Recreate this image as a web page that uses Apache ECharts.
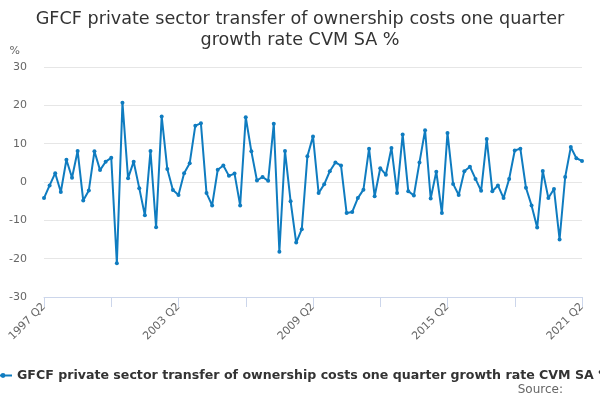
<!DOCTYPE html>
<html>
<head>
<meta charset="utf-8">
<script src="https://cdn.jsdelivr.net/npm/echarts@6/dist/echarts.min.js"></script>
<style>
    html, body { margin: 0; padding: 0; background: #fff; }
    #chart { width: 600px; height: 400px; }
</style>
</head>
<body>
<div id="chart"></div>
<script>
// Quarterly growth rate, 1997 Q2 .. 2021 Q2
var seriesName = 'GFCF private sector transfer of ownership costs one quarter growth rate CVM SA %';

var growth = [
    -4.2, -0.9, 2.3, -2.6, 5.8, 1.1, 8.1, -4.8, -2.2, 8.0,
    3.1, 5.3, 6.3, -21.2, 20.7, 1.0, 5.3, -1.6, -8.7, 8.1,
    -11.8, 17.1, 3.4, -2.1, -3.4, 2.3, 4.9, 14.7, 15.3, -2.9,
    -6.1, 3.2, 4.3, 1.6, 2.2, -6.1, 16.9, 8.0, 0.4, 1.3,
    0.3, 15.2, -18.2, 8.1, -5.0, -15.8, -12.3, 6.7, 11.9, -2.9,
    -0.6, 2.8, 5.1, 4.3, -8.1, -7.8, -4.2, -2.0, 8.7, -3.7,
    3.6, 1.9, 8.9, -2.9, 12.4, -2.4, -3.5, 5.1, 13.5, -4.3,
    2.7, -8.1, 12.8, -0.5, -3.4, 2.8, 4.0, 0.8, -2.3, 11.2,
    -2.4, -0.9, -4.2, 0.8, 8.2, 8.7, -1.5, -6.1, -11.9, 2.9,
    -4.2, -1.8, -15.0, 1.3, 9.1, 6.2, 5.5
];

var quarters = [];
for (var i = 0; i < growth.length; i++) {
    var q = 2 + i;
    quarters.push((1997 + Math.floor((q - 1) / 4)) + ' Q' + (((q - 1) % 4) + 1));
}

var yTicks = { min: -30, max: 30, interval: 10 };

var chart = echarts.init(document.getElementById('chart'));
var option = {
    animation: false,
    textStyle: { fontFamily: 'DejaVu Sans' },
    title: {
        text: 'GFCF private sector transfer of ownership costs one quarter\ngrowth rate CVM SA %',
        left: 'center',
        top: 4,
        textStyle: { fontSize: 17.6, fontWeight: 'normal', color: '#333', lineHeight: 21 }
    },
    legend: {
        left: -12,
        top: 364,
        itemWidth: 18,
        itemHeight: 6,
        itemGap: 6,
        textStyle: { fontSize: 12.6, fontWeight: 'bold', color: '#333' },
        data: [seriesName]
    },
    graphic: [{
        type: 'text',
        right: 37,
        top: 384,
        style: { text: 'Source:', fontSize: 12, fill: '#666', fontFamily: 'DejaVu Sans' }
    }],
    grid: { left: 44, right: 18, top: 67, bottom: 103 },
    xAxis: {
        type: 'category',
        data: quarters,
        boundaryGap: false,
        axisLine: { onZero: false, lineStyle: { color: '#ccd6eb' } },
        axisTick: {
            length: 10,
            lineStyle: { color: '#ccd6eb' },
            interval: function (index) { return index % 12 === 0; }
        },
        axisLabel: {
            rotate: 45,
            color: '#666',
            fontSize: 11,
            margin: 8,
            interval: function (index) { return index % 24 === 0; }
        },
        splitLine: { show: false }
    },
    yAxis: {
        type: 'value',
        min: yTicks.min,
        max: yTicks.max,
        interval: yTicks.interval,
        name: '%',
        nameLocation: 'end',
        nameGap: 10,
        nameTextStyle: { color: '#666', fontSize: 11, align: 'right', padding: [0, 24, 0, 0] },
        axisLine: { show: false },
        axisTick: { show: false },
        axisLabel: { color: '#666', fontSize: 11, margin: 17 },
        splitLine: { lineStyle: { color: '#e6e6e6' } }
    },
    series: [{
        name: seriesName,
        type: 'line',
        data: growth,
        color: '#0f7cc0',
        symbol: 'circle',
        symbolSize: 4,
        showAllSymbol: true,
        lineStyle: { width: 2 }
    }]
};
chart.setOption(option);
</script>
</body>
</html>
